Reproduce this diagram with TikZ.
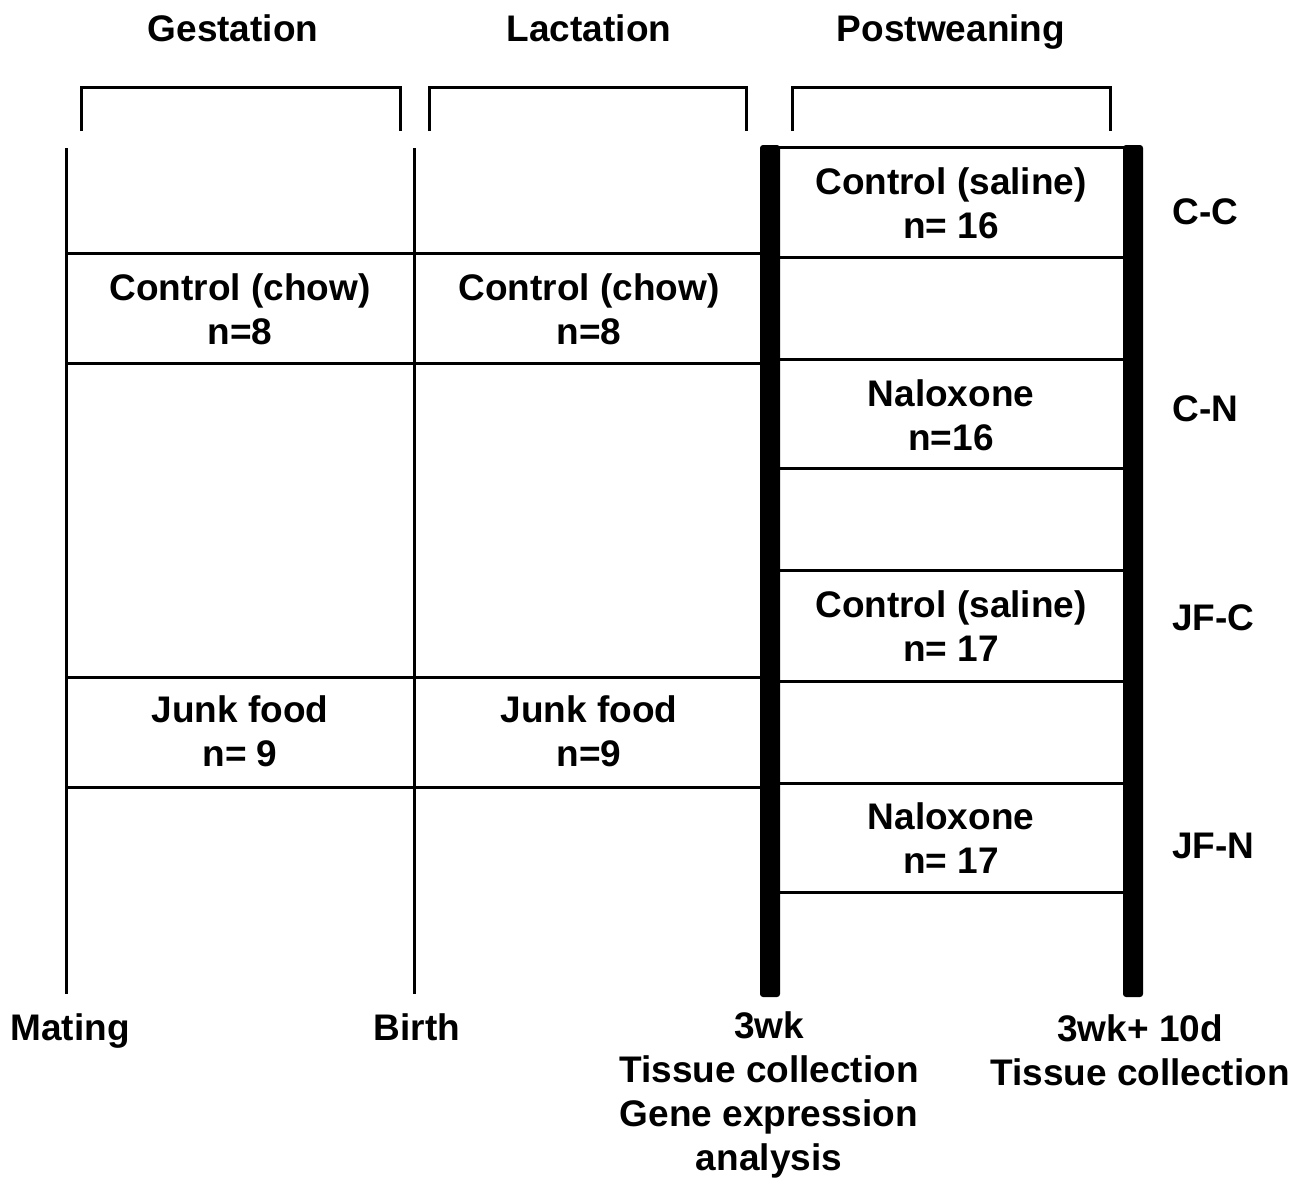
\documentclass[tikz,border=0pt]{standalone}
\usepackage{fontspec}
\setmainfont{Liberation Sans}
\begin{document}
\begin{tikzpicture}[x=0.5pt,y=-0.5pt,
  lbl/.style={font=\fontsize{18.5}{22}\selectfont\bfseries, align=center, inner sep=0pt},
  one/.style={lbl, anchor=base},
  side/.style={lbl, anchor=base west},
  thin/.style={line width=1.5pt, line cap=butt},
  bar/.style={fill=black, rounded corners=1.5pt}]
\useasboundingbox (0,0) rectangle (1310,1178);
% headings
\node[one] (gest) at (233,41) {Gestation};
\node[one] (lact) at (589,41) {Lactation};
\node[one] (post) at (951,41) {Postweaning};
% brackets
\draw[thin, line join=miter] (81,131) -- (81,87) -- (400,87) -- (400,131);
\draw[thin, line join=miter] (429,131) -- (429,87) -- (746,87) -- (746,131);
\draw[thin, line join=miter] (792,131) -- (792,87) -- (1110,87) -- (1110,131);
% thin verticals
\draw[thin] (66,148) -- (66,994);
\draw[thin] (414,148) -- (414,994);
% thick bars
\fill[bar] (760,145) rectangle (780,997);
\fill[bar] (1123,145) rectangle (1143,997);
% left horizontals
\foreach \y in {253,363,677,787} \draw[thin] (66,\y) -- (762,\y);
% right horizontals
\foreach \y in {147,257,359,468,570,681,783,892} \draw[thin] (778,\y) -- (1125,\y);
% left boxes text
\node[lbl] (cc1) at (240,309) {Control (chow)\\n=8};
\node[lbl] (cc2) at (589,309) {Control (chow)\\n=8};
\node[lbl] (jf1) at (240,731) {Junk food\\n= 9};
\node[lbl] (jf2) at (589,731) {Junk food\\n=9};
% right boxes text
\node[lbl] (r1) at (951,203) {Control (saline)\\n= 16};
\node[lbl] (r2) at (951,415) {Naloxone\\n=16};
\node[lbl] (r3) at (951,626) {Control (saline)\\n= 17};
\node[lbl] (r4) at (951,838) {Naloxone\\n= 17};
% side labels
\node[side] (s1) at (1172,224) {C-C};
\node[side] (s2) at (1172,421) {C-N};
\node[side] (s3) at (1172,630) {JF-C};
\node[side] (s4) at (1172,858) {JF-N};
% bottom labels
\node[one] (mat) at (70,1040) {Mating};
\node[one] (bir) at (417,1040) {Birth};
\node[lbl] (wk3) at (769,1095) {3wk\\Tissue collection\\Gene expression\\analysis};
\node[lbl] (wk10) at (1140,1050) {3wk+ 10d\\Tissue collection};
\end{tikzpicture}
\end{document}
